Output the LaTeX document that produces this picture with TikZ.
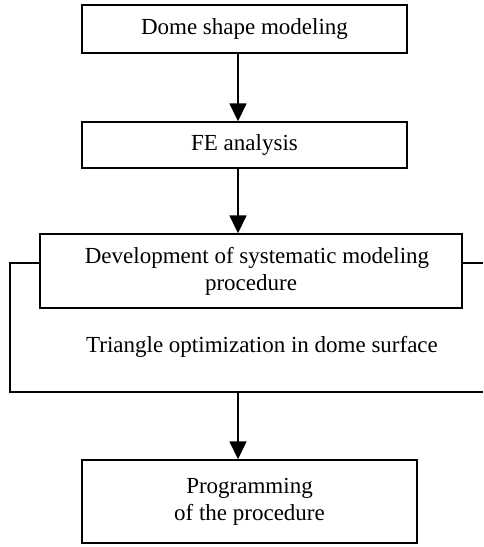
\documentclass[tikz,border=0pt]{standalone}
\usepackage{fontspec}
\setmainfont{Liberation Serif}
\usetikzlibrary{arrows.meta,calc}
\tikzset{
  box/.style={draw, line width=1.4pt, inner sep=0pt, align=center, font=\fontsize{23}{27}\selectfont},
  arr/.style={line width=1.6pt, -{Triangle[length=18pt,width=17pt]}},
  frame/.style={line width=1.4pt}
}
\begin{document}
\begin{tikzpicture}
\useasboundingbox (0pt,0pt) rectangle (483pt,-547pt);
\node[box, minimum width=325pt, minimum height=48pt] (b1) at (244.5pt,-29pt) {Dome shape modeling};
\node[box, minimum width=325pt, minimum height=46pt] (b2) at (244.5pt,-145pt) {FE analysis};
\node[box, minimum width=422pt, minimum height=74pt] (b3) at (251pt,-271pt) {\hspace*{12pt}Development of systematic modeling\\procedure};
\node[font=\fontsize{23}{27}\selectfont] (t) at (262pt,-347pt) {Triangle optimization in dome surface};
\node[box, minimum width=335pt, minimum height=83pt] (b4) at (249.5pt,-501.5pt) {Programming\\of the procedure};
\coordinate (fl) at (10pt,-263pt);
\coordinate (fbl) at (10pt,-392pt);
\coordinate (fbr) at (483pt,-392pt);
\coordinate (fr) at (483pt,-263pt);
\coordinate (fm) at (238pt,-392pt);
\draw[frame] (b3.west |- fl) -- (fl) -- (fbl) -- (fbr);
\draw[frame] (b3.east |- fr) -- (fr);
\draw[arr] ([xshift=-6.5pt]b1.south) -- ([xshift=-6.5pt]b2.north);
\draw[arr] ([xshift=-6.5pt]b2.south) -- ([xshift=-13pt]b3.north);
\draw[arr] (fm) -- (fm |- b4.north);
\end{tikzpicture}
\end{document}
